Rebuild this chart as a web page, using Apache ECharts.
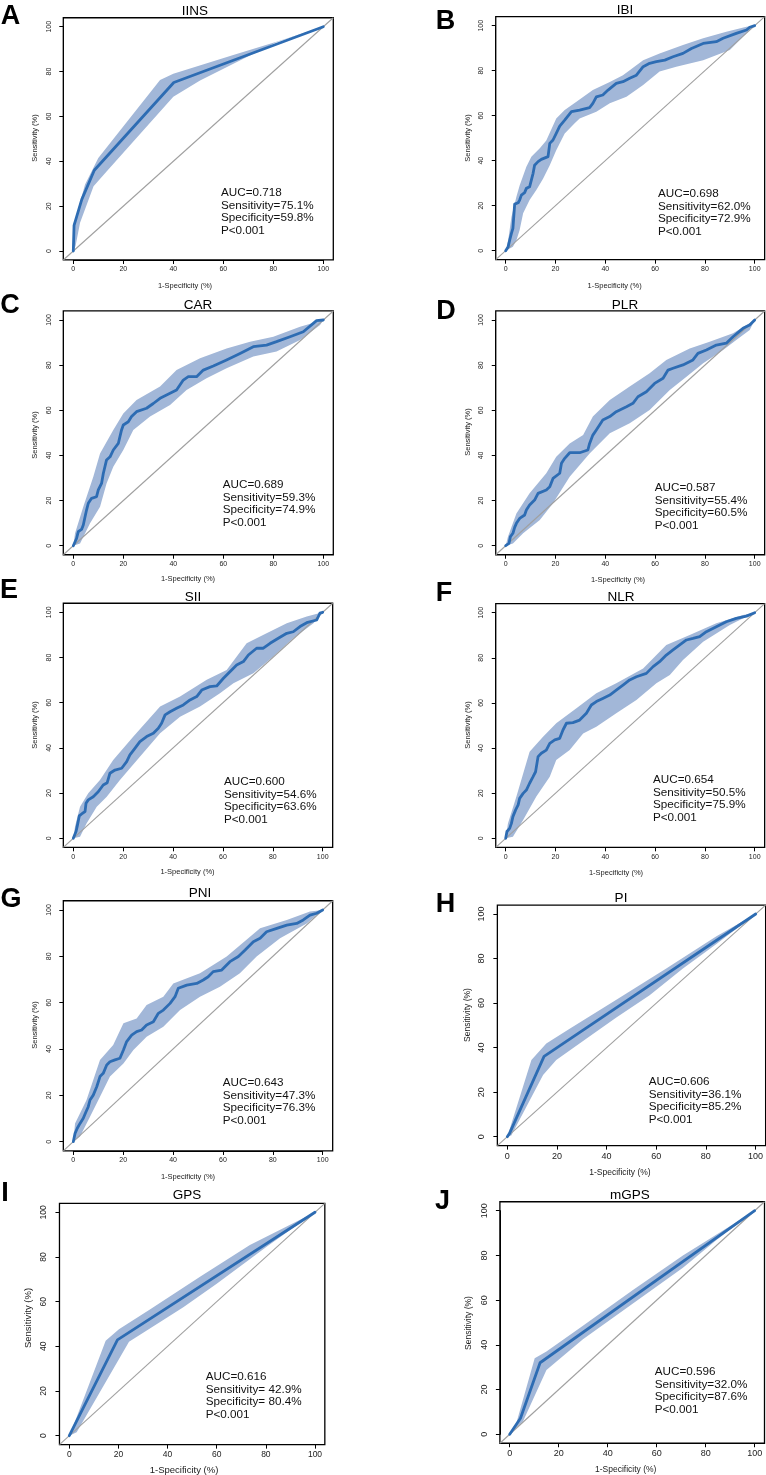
<!DOCTYPE html>
<html><head><meta charset="utf-8">
<script src="https://cdn.jsdelivr.net/npm/echarts/dist/echarts.min.js"></script>
<style>html,body{margin:0;padding:0;background:#fff}#c{width:766px;height:1475px}</style>
</head><body><div id="c"></div>
<script>
// ---------- DATA ----------
const panelLetters = ['A','B','C','D','E','F','G','H','I','J'];
const panelTitles = ['IINS','IBI','CAR','PLR','SII','NLR','PNI','PI','GPS','mGPS'];
const aucValues = ['0.718','0.698','0.689','0.587','0.600','0.654','0.643','0.606','0.616','0.596'];
const sensValues = ['75.1%','62.0%','59.3%','55.4%','54.6%','50.5%','47.3%','36.1%',' 42.9%','32.0%'];
const specValues = ['59.8%','72.9%','74.9%','60.5%','63.6%','75.9%','76.3%','85.2%',' 80.4%','87.6%'];
const pValues = ['<0.001','<0.001','<0.001','<0.001','<0.001','<0.001','<0.001','<0.001','<0.001','<0.001'];
const xAxisTitle = '1-Specificity (%)';
const yAxisTitle = 'Sensitivity (%)';
const tickMin = 0, tickMax = 100, tickStep = 20;
const diagonal = [[-4,-4],[104,104]];

const iinsRoc = [[0,0],[0.3,11.4],[3.4,23],[8.4,36],[40.2,75.1],[100,100]];
const iinsUpper = [[0,12],[0.9,14.5],[4.7,29.6],[10,41.5],[34.7,76.2],[40,79],[64,87.4],[81.3,93.3],[100,100]];
const iinsLower = [[0,0],[0.9,2.2],[2.7,12.6],[8.1,28.9],[13.4,35.6],[40,68.8],[50.7,76],[81,93],[100,100]];

const ibiRoc = [[0,0],[1,1.8],[1.6,4.7],[2.3,7.7],[2.9,9.9],[3.6,9.9],[3.6,20.7],[5,21.3],[5.6,22.5],[6.3,24.7],[7.6,25.8],[8.3,27.7],[9.6,28.4],[10.3,31.4],[11,34.4],[11.6,38],[13,39.6],[14.3,40.6],[17,41.8],[17.7,47.7],[19,49.2],[20.3,52.1],[21.7,55.4],[23.7,58],[26.4,61.8],[29.7,62.5],[33.7,63.6],[35,65.5],[36.4,68.4],[39,69.2],[41.1,71.4],[44.4,74.4],[47.1,75.1],[49.8,76.6],[52.5,78],[55.2,81.8],[57.8,83.3],[60.5,84],[63.9,84.7],[67.2,86.2],[71.2,87.7],[74.6,89.9],[79.3,92.1],[84.6,92.9],[87.3,94.4],[92.6,96.6],[96.7,98.1],[98,99.3],[100,100]];
const ibiUpper = [[0,0],[1,4.7],[2.3,15],[4.3,24],[5.6,29],[8.3,37.3],[10.3,41.8],[13.7,45.5],[16.3,49],[20.3,58.8],[23.7,62.5],[28.4,66.2],[35,71.4],[41.8,75],[47.1,78],[55.2,84.7],[61.8,87.7],[71.2,91.4],[79.3,94.4],[88.6,97.3],[96.7,99.5],[100,100]];
const ibiLower = [[0,0],[2.9,1.8],[4.3,4.7],[5.6,9.2],[7,16.6],[9.6,22.5],[12.3,27],[15,32],[17.7,38],[20.3,44.7],[23.7,52.1],[27.7,56.6],[29.7,58.8],[36.4,61.8],[41.8,65.5],[48.5,68.4],[55.2,73.6],[61.8,79.6],[68.5,81.8],[79.3,84.7],[90,89.2],[96.7,96.6],[100,100]];

const carRoc = [[0,0],[1.3,3.2],[2,6.2],[3.3,7.2],[4,9.2],[4.7,12.8],[5.3,15.8],[6,18.8],[7.3,21],[9.3,21.7],[10,24.7],[11.3,27.6],[12,32],[13.3,38],[14.7,39.4],[16,42.4],[18,45.3],[19.3,51.3],[20,53.5],[22,54.9],[23.3,57.2],[25.3,59.4],[29.3,60.9],[32,63],[34.7,65.3],[38.7,67.5],[41.3,69],[44,73.4],[46,74.9],[49.3,74.9],[52,77.8],[56,79.6],[61.3,82.3],[66.7,85.2],[72,88.2],[77.3,88.9],[81.3,90.4],[86.7,92.6],[92,94.8],[96,98.5],[97.3,99.7],[100,100]];
const carUpper = [[0,0],[0.7,5.5],[4,17.3],[8,30.6],[10.7,40.9],[16,51.3],[20,58.6],[25.3,64.5],[34.7,70.5],[41.3,77.8],[50.7,83],[61.3,87.4],[70.7,90.4],[80,92.6],[90.7,97],[100,100]];
const carLower = [[0,0],[2.7,1],[6.7,9.9],[10.7,17.3],[13.3,27.6],[16,35],[20,42.4],[24,51.3],[30.7,57.2],[38.7,62.3],[45.3,69],[53.3,74.2],[61.3,78.6],[72,83.8],[81.3,86],[90.7,91.1],[98.7,97.8],[100,100]];

const plrRoc = [[0,0],[1.3,1],[1.9,4],[2.9,5.5],[3.6,8.1],[4.3,9.9],[5.6,12.1],[7.6,13.6],[8.3,15.8],[9.6,18],[11.6,20.2],[13,23.2],[16.3,24.7],[17.7,26.1],[19,29.8],[21.7,32.1],[22.4,36.5],[23.7,38.7],[25.7,41.2],[29.7,41.2],[33,42.4],[33.7,45.3],[35,49],[36.4,51.3],[39,55.7],[41.8,57.2],[44.4,59.4],[48.5,61.6],[51.1,63.1],[53.1,66],[56.5,68.2],[59.8,71.9],[63.2,74.2],[65.2,77.8],[67.2,78.6],[71.2,80.1],[75.2,82.3],[77.2,85.2],[80.6,86.7],[84.6,88.9],[88.6,89.7],[91.3,92.6],[95.3,96.3],[98,97.8],[100,100]];
const plrUpper = [[0,0],[0.9,4],[4.3,14.3],[9.6,23.2],[16.3,32.1],[20.3,39.4],[25.7,45.3],[31.1,49],[35,57.2],[41.8,64.5],[49.8,70.5],[57.8,76.4],[64.5,82.3],[73.9,87.4],[81.9,90.4],[91.3,94.1],[96.7,97.8],[100,100]];
const plrLower = [[0,0],[2.9,1],[7,5.5],[13.7,11.4],[19,18.8],[25.7,30.6],[33.7,40.9],[41.8,49.8],[49.8,54.2],[57.8,60.1],[65.9,69],[72.6,74.9],[79.3,80.8],[87.3,86.7],[92.6,91.1],[98,95.6],[100,100]];

const siiRoc = [[0,0],[1.1,3],[1.6,5.5],[2.4,9.9],[3.7,11.1],[4.7,11.8],[5.1,15.5],[6,17],[8,18.4],[10,20.6],[12,23.6],[13.6,24.6],[14.7,28.8],[16.7,30.2],[19.4,31],[21.4,33.9],[22.7,36.9],[24.7,39.8],[26.7,42.8],[29.4,45],[32.1,46.5],[34.1,48.7],[35.4,50.9],[36.8,54.6],[38.8,56],[41.4,57.5],[44.1,59],[46.8,61.2],[49.5,62.7],[51.5,65.6],[54.8,67.1],[57.5,67.4],[60.2,70.8],[62.8,73.7],[65.5,76.7],[68.2,78.2],[70.2,81.1],[73.5,84.1],[76.2,84.1],[78.9,86.3],[82.2,88.5],[85.6,90.7],[88.2,91.4],[90.9,93.7],[93.6,95.4],[97.6,96.6],[98.9,99.6],[100,100]];
const siiUpper = [[0,0],[0.7,5.2],[2.7,14],[6,19.9],[10.7,25.8],[16,34.7],[24.1,45],[34.8,58.3],[42.8,62.7],[53.5,70.1],[61.5,74.5],[69.5,86.3],[77.5,90.7],[85.6,95.1],[93.6,98.1],[100,100]];
const siiLower = [[0,0],[2.7,0.7],[5.3,6.6],[9.4,14],[13.4,18.4],[18.7,25.8],[26.7,36.1],[34.8,46.5],[42.8,53.8],[50.8,58.3],[58.8,64.2],[64.2,68.6],[72.2,73],[80.2,80.4],[88.2,88.5],[96.3,95.1],[100,100]];

const nlrRoc = [[0,0],[0.5,3],[1.6,4.4],[2.3,6.6],[2.9,9.6],[4,12.6],[5,14.8],[5.6,17.7],[7,19.9],[8.3,21.4],[9.6,24.4],[11,27.3],[12,29.5],[13,36.2],[14.3,37.7],[16.3,39.1],[17.7,42.1],[19.7,43.6],[21.7,44.3],[23,48],[24.4,51],[27,51.3],[29.7,52.4],[32.4,55.4],[34.4,59.1],[36.4,60.6],[39,62],[41.8,63.5],[44.4,65.7],[47.1,67.9],[49.8,70.2],[52.5,71.6],[56.5,73.1],[59.2,76.1],[61.8,78.3],[64.5,81.2],[67.2,83.5],[69.9,85.7],[72.6,87.9],[75.2,88.6],[77.9,89.4],[80.6,91.6],[84.6,93.8],[88.6,96],[92.6,97.5],[96.7,98.5],[100,100]];
const nlrUpper = [[0,0],[0.9,6.6],[4.3,18.5],[9.6,38.4],[15,45],[20.3,51],[28.4,57.6],[36.4,64.3],[44.4,68.7],[55.2,75.3],[64.5,85.7],[73.9,90.1],[84.6,95.3],[95.3,99],[100,100]];
const nlrLower = [[0,0],[2.9,0.7],[7,8.1],[12.3,18.5],[17.7,27.3],[20.3,34.7],[25.7,39.1],[31.1,46.5],[36.4,49.5],[44.4,55.4],[52.5,61.3],[60.5,68.7],[65.9,72.4],[71.2,79],[79.3,87.1],[90,94.5],[98,99],[100,100]];

const pniRoc = [[0,0],[0.7,3.6],[1.6,5.8],[2.7,7.9],[4,10.1],[5.1,12.9],[6,15.1],[6.7,18],[8,20.1],[9.4,23.7],[10.7,28.1],[12,29.5],[13.4,33.1],[14.7,34.5],[16.7,35.3],[18.7,36],[20.1,39.6],[21.4,43.2],[23.4,46],[25.4,47.5],[27.4,48.2],[29.4,50.4],[32.1,51.8],[34.1,55.4],[36.1,56.8],[38.8,59.7],[40.8,62.6],[42.1,66.2],[45.5,67.6],[49.5,68.3],[52.1,69.8],[54.1,71.2],[56.1,73.4],[59.5,74.1],[62.8,77.7],[66.2,79.9],[68.9,82.7],[72.2,86.3],[74.9,87.8],[77.5,90.6],[81.6,92.1],[85.6,93.5],[89.6,94.2],[92.2,95.7],[94.9,97.8],[97.6,98.6],[100,100]];
const pniUpper = [[0,0],[0.7,7.9],[5.3,18],[10.7,35.3],[16,41.7],[20.1,51.1],[25.4,53.2],[29.4,59],[36.1,62.6],[40.1,68.3],[50.8,72.7],[61.5,79.9],[74.9,92.1],[85.6,95.7],[94.9,99.3],[100,100]];
const pniLower = [[0,0],[2.7,2.2],[6.7,10.8],[10.7,19.4],[14.7,28.1],[20.1,33.8],[24.1,39.6],[29.4,45.3],[36.1,49.6],[42.8,56.8],[50.8,62.6],[58.8,66.9],[66.8,72.7],[73.5,79.9],[82.9,87.8],[93.6,94.2],[100,100]];

const piRoc = [[0,0],[0.9,1.5],[14.8,36.1],[100,100]];
const piUpper = [[0,0],[9.7,34.4],[15.7,41.9],[25.1,48.5],[43.9,61.5],[64,75.5],[84.2,90],[100,100]];
const piLower = [[0,0],[1.6,0.5],[14.4,27.7],[19.7,34.4],[30.5,43],[43.9,53.5],[57.3,63.5],[70.7,75.5],[84.2,86.5],[100,100]];

const gpsRoc = [[0,0],[19.6,42.9],[100,100]];
const gpsUpper = [[0,0],[1,2.5],[14.8,42.5],[20.2,47.6],[32.8,56.5],[53.2,71.2],[73.5,85.4],[100,100]];
const gpsLower = [[0,0],[3,1.5],[24.3,42],[32.8,48],[46.4,57.5],[60,68],[80.3,84.6],[100,100]];

const mgpsRoc = [[0,0],[4.4,7.2],[12.4,32],[100,100]];
const mgpsUpper = [[0,0],[2.7,4.9],[10.2,34],[15,37],[29.9,48.5],[50.3,64.5],[70.7,80],[100,100]];
const mgpsLower = [[0,0],[5.4,5.7],[15,28.8],[29.9,42.5],[50.3,58.5],[70.7,74.5],[84.4,86.9],[100,100]];

const rocCurves = [iinsRoc, ibiRoc, carRoc, plrRoc, siiRoc, nlrRoc, pniRoc, piRoc, gpsRoc, mgpsRoc];
const ciUpper = [iinsUpper, ibiUpper, carUpper, plrUpper, siiUpper, nlrUpper, pniUpper, piUpper, gpsUpper, mgpsUpper];
const ciLower = [iinsLower, ibiLower, carLower, plrLower, siiLower, nlrLower, pniLower, piLower, gpsLower, mgpsLower];

// ---------- LAYOUT (pixels) ----------
const layout = [
 {x0:73.3,x100:323.3,y0:251,y100:26.7, letter:[10.5,17], title:[195,11], xt:[185,286], yt:[35,138], auc:[221,193], tf:7, af:7.5},
 {x0:505.7,x100:754.7,y0:250.7,y100:25.7, letter:[445.5,22], title:[625,10], xt:[614.7,286], yt:[468,138], auc:[658,194], tf:7, af:7.5},
 {x0:73.3,x100:323.3,y0:545.7,y100:320, letter:[10,306], title:[198,305], xt:[188,579], yt:[35,435], auc:[222.7,485], tf:7, af:7.5},
 {x0:505.7,x100:754.7,y0:545.7,y100:320, letter:[446,312], title:[625,305], xt:[618,580], yt:[468,432], auc:[654.7,488], tf:7, af:7.5},
 {x0:73.3,x100:322.7,y0:838.3,y100:612.3, letter:[9,591], title:[193,597], xt:[187.5,872], yt:[35,725], auc:[224,782], tf:7, af:7.5},
 {x0:505.7,x100:754.7,y0:838.3,y100:612.7, letter:[444,594], title:[621,597], xt:[616,873], yt:[468,725], auc:[653,780], tf:7, af:7.5},
 {x0:73.3,x100:322.7,y0:1141.7,y100:910, letter:[11,900], title:[200,893], xt:[188,1177], yt:[35,1025], auc:[222.7,1083], tf:7, af:7.5},
 {x0:507.3,x100:755.7,y0:1136.7,y100:914, letter:[445.5,905], title:[621,898], xt:[620,1173], yt:[468,1015], auc:[648.7,1082], tf:9, af:8.5},
 {x0:69.3,x100:315,y0:1435.7,y100:1212.3, letter:[5,1194], title:[187,1195], xt:[184,1470], yt:[28,1318], auc:[205.7,1377], tf:8.5, af:9.5},
 {x0:509.7,x100:754.7,y0:1434.3,y100:1210.7, letter:[442.5,1202], title:[630,1195], xt:[625.7,1470], yt:[469,1323], auc:[654.7,1372], tf:9, af:8.5}
];

const FONT = '"Liberation Sans", Arial, Helvetica, sans-serif';
const LINE_COLOR = '#2d6cb3';
const BAND_COLOR = '#a2b7d8';
const DIAG_COLOR = '#a0a0a0';

const grids = [], xAxes = [], yAxes = [], series = [], graphics = [];

panelTitles.forEach((title, i) => {
  const L = layout[i];
  const w = L.x100 - L.x0, h = L.y0 - L.y100;
  const px = w * 0.04, py = h * 0.04;
  const gOuter = grids.length;
  grids.push({left: L.x0 - px, top: L.y100 - py, width: w + 2*px, height: h + 2*py,
    show: true, borderColor: '#000', borderWidth: 1.3, backgroundColor: 'transparent', containLabel: false});
  xAxes.push({gridIndex: gOuter, type: 'value', min: -4, max: 104, show: false});
  yAxes.push({gridIndex: gOuter, type: 'value', min: -4, max: 104, show: false});
  const gInner = grids.length;
  grids.push({left: L.x0, top: L.y100, width: w, height: h, containLabel: false});
  const axisCommon = {
    type: 'value', min: tickMin, max: tickMax, interval: tickStep,
    axisLine: {show: true, onZero: false, lineStyle: {color: '#000', width: 1}},
    axisTick: {show: true, inside: false, length: 4, lineStyle: {color: '#000', width: 1}},
    splitLine: {show: false},
    axisLabel: {fontSize: L.tf, color: '#222', fontFamily: FONT}
  };
  xAxes.push(Object.assign({}, axisCommon, {gridIndex: gInner, position: 'bottom', offset: py,
    axisLabel: Object.assign({}, axisCommon.axisLabel, {margin: 6})}));
  yAxes.push(Object.assign({}, axisCommon, {gridIndex: gInner, position: 'left', offset: px,
    axisLabel: Object.assign({}, axisCommon.axisLabel, {margin: 11, rotate: 90})}));

  const xi = xAxes.length - 2, yi = yAxes.length - 2;
  const up = ciUpper[i], lo = ciLower[i];
  series.push({
    type: 'custom', xAxisIndex: xi, yAxisIndex: yi, silent: true, z: 1,
    data: [[0, 0]],
    renderItem: (params, api) => {
      const pts = up.map(p => api.coord(p)).concat(lo.slice().reverse().map(p => api.coord(p)));
      return {type: 'polygon', shape: {points: pts}, style: {fill: BAND_COLOR, stroke: null}};
    }
  });
  series.push({type: 'line', xAxisIndex: xi, yAxisIndex: yi, data: diagonal, symbol: 'none', silent: true, z: 2,
    lineStyle: {color: DIAG_COLOR, width: 1.1}});
  series.push({type: 'line', xAxisIndex: xi, yAxisIndex: yi, data: rocCurves[i], symbol: 'none', silent: true, z: 3,
    lineStyle: {color: LINE_COLOR, width: 2.8, join: 'round', cap: 'round'}});

  graphics.push({type: 'text', x: L.letter[0], y: L.letter[1], style: {text: panelLetters[i], font: 'bold 27px ' + FONT, fill: '#000', align: 'center', verticalAlign: 'middle'}});
  graphics.push({type: 'text', x: L.title[0], y: L.title[1], style: {text: title, font: '13.5px ' + FONT, fill: '#000', align: 'center', verticalAlign: 'middle'}});
  graphics.push({type: 'text', x: L.xt[0], y: L.xt[1], style: {text: xAxisTitle, font: L.af + 'px ' + FONT, fill: '#222', align: 'center', verticalAlign: 'middle'}});
  graphics.push({type: 'text', x: L.yt[0], y: L.yt[1], rotation: Math.PI/2, style: {text: yAxisTitle, font: L.af + 'px ' + FONT, fill: '#222', align: 'center', verticalAlign: 'middle'}});
  const lh = 12.5;
  graphics.push({type: 'text', x: L.auc[0], y: L.auc[1] - lh/2, style: {
    text: 'AUC=' + aucValues[i] + '\nSensitivity=' + sensValues[i] + '\nSpecificity=' + specValues[i] + '\nP' + pValues[i],
    font: '11.7px ' + FONT, lineHeight: lh, fill: '#111', align: 'left', verticalAlign: 'top'}});
});

const chart = echarts.init(document.getElementById('c'), null, {renderer: 'canvas', width: 766, height: 1475});
chart.setOption({
  animation: false,
  backgroundColor: '#fff',
  grid: grids, xAxis: xAxes, yAxis: yAxes, series: series,
  graphic: {elements: graphics}
});
</script>
</body></html>
